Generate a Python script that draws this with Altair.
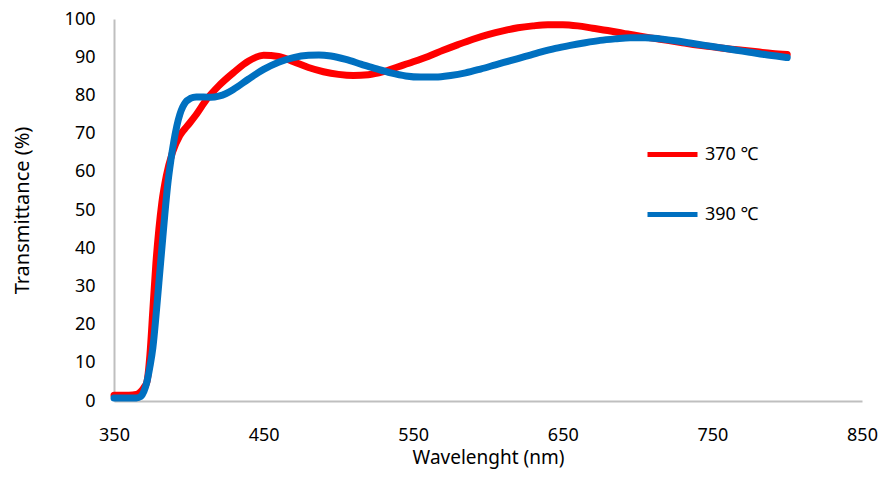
import altair as alt
import pandas as pd

wl_370 = [350, 360, 365, 368, 370, 372, 374, 376, 378, 380, 382, 385, 389, 394, 399, 405, 412, 420, 430, 440, 450,
          460, 470, 480, 490, 500, 510, 520, 530, 540, 550, 560, 570, 580, 590, 600, 610, 620, 630, 640, 650,
          660, 670, 680, 690, 700, 710, 720, 730, 740, 750, 760, 770, 780, 790, 800]
t_370 = [1.5, 1.5, 1.7, 2.5, 3.5, 5, 12, 24, 36, 45, 52, 59, 65, 69.5, 72, 75, 79, 82.5, 86, 89, 90.5,
         90.2, 88.8, 87.3, 86.2, 85.5, 85.2, 85.4, 86.2, 87.5, 88.8, 90.2, 91.8, 93.3, 94.7, 95.9, 96.9, 97.7, 98.2, 98.5, 98.5,
         98.2, 97.6, 97.0, 96.3, 95.6, 95.0, 94.4, 93.8, 93.2, 92.7, 92.2, 91.8, 91.4, 91.0, 90.7]

wl_390 = [350, 365, 368, 370, 372, 374, 376, 378, 380, 382, 384, 386, 388, 390, 392, 394, 396, 398, 401, 405,
          410, 415, 420, 425, 430, 440, 450, 460, 470, 480, 487, 495, 505, 515, 525, 535, 545, 555, 565, 575,
          585, 595, 605, 615, 625, 635, 645, 655, 665, 675, 685, 695, 705, 715, 725, 735, 745, 755, 765, 775,
          785, 795, 800]
t_390 = [0.8, 0.8, 1.2, 2.5, 5, 9, 14, 22, 31, 40, 49, 57, 63, 68, 72, 75, 77, 78.3, 79.2, 79.6,
         79.6, 79.5, 79.8, 80.5, 81.6, 84.3, 86.8, 88.7, 89.9, 90.5, 90.6, 90.3, 89.4, 88.2, 87.0, 85.9, 85.1, 84.8, 84.8, 85.2,
         85.9, 86.9, 88.0, 89.1, 90.2, 91.3, 92.3, 93.1, 93.8, 94.4, 94.8, 95.1, 95.1, 94.8, 94.3, 93.7, 93.1, 92.5, 91.9, 91.3,
         90.7, 90.2, 89.9]

series_names = ["370 ℃", "390 ℃"]
series_colors = ["#FF0000", "#0070C0"]
x_ticks = [350, 450, 550, 650, 750, 850]
y_ticks = list(range(0, 101, 10))

df = pd.concat([
    pd.DataFrame({"wl": wl_370, "T": t_370, "series": series_names[0], "order": 0}),
    pd.DataFrame({"wl": wl_390, "T": t_390, "series": series_names[1], "order": 1}),
])

FONT = "Noto Sans"

chart = alt.Chart(df).mark_line(strokeWidth=7, interpolate="monotone", strokeCap="round").encode(
    x=alt.X("wl:Q", scale=alt.Scale(domain=[350, 850], nice=False),
            axis=alt.Axis(values=x_ticks, title="Wavelenght (nm)", grid=False, ticks=False,
                          domainColor="#bfbfbf", domainWidth=2, labelFontSize=18, labelPadding=25,
                          labelFlush=False, labelOverlap=False,
                          titleFontSize=19, titleFontWeight="normal", titlePadding=4, labelFont=FONT,
                          titleFont=FONT, labelColor="#000", titleColor="#000")),
    y=alt.Y("T:Q", scale=alt.Scale(domain=[0, 100], nice=False),
            axis=alt.Axis(values=y_ticks, title="Transmittance (%)", grid=False, ticks=False,
                          domainColor="#bfbfbf", domainWidth=2, labelFontSize=18, labelPadding=19,
                          labelFlush=False, labelOverlap=False,
                          titleFontSize=20, titleFontWeight="normal", titlePadding=32, labelFont=FONT,
                          titleFont=FONT, labelColor="#000", titleColor="#000")),
    color=alt.Color("series:N", scale=alt.Scale(domain=series_names, range=series_colors),
                    legend=alt.Legend(title=None, orient="none", legendX=531, legendY=108,
                                      symbolType="stroke", symbolSize=2500, symbolStrokeWidth=5,
                                      labelFontSize=18, labelFont=FONT, labelColor="#000",
                                      rowPadding=22, labelOffset=5)),
    order="order:Q",
).properties(
    width=748, height=382,
    autosize=alt.AutoSizeParams(type="none"),
    padding={"left": 106, "top": 11, "right": 26, "bottom": 71},
).configure_view(stroke=None)

chart.save("out.html", embed_options={"renderer": "svg", "actions": False})
